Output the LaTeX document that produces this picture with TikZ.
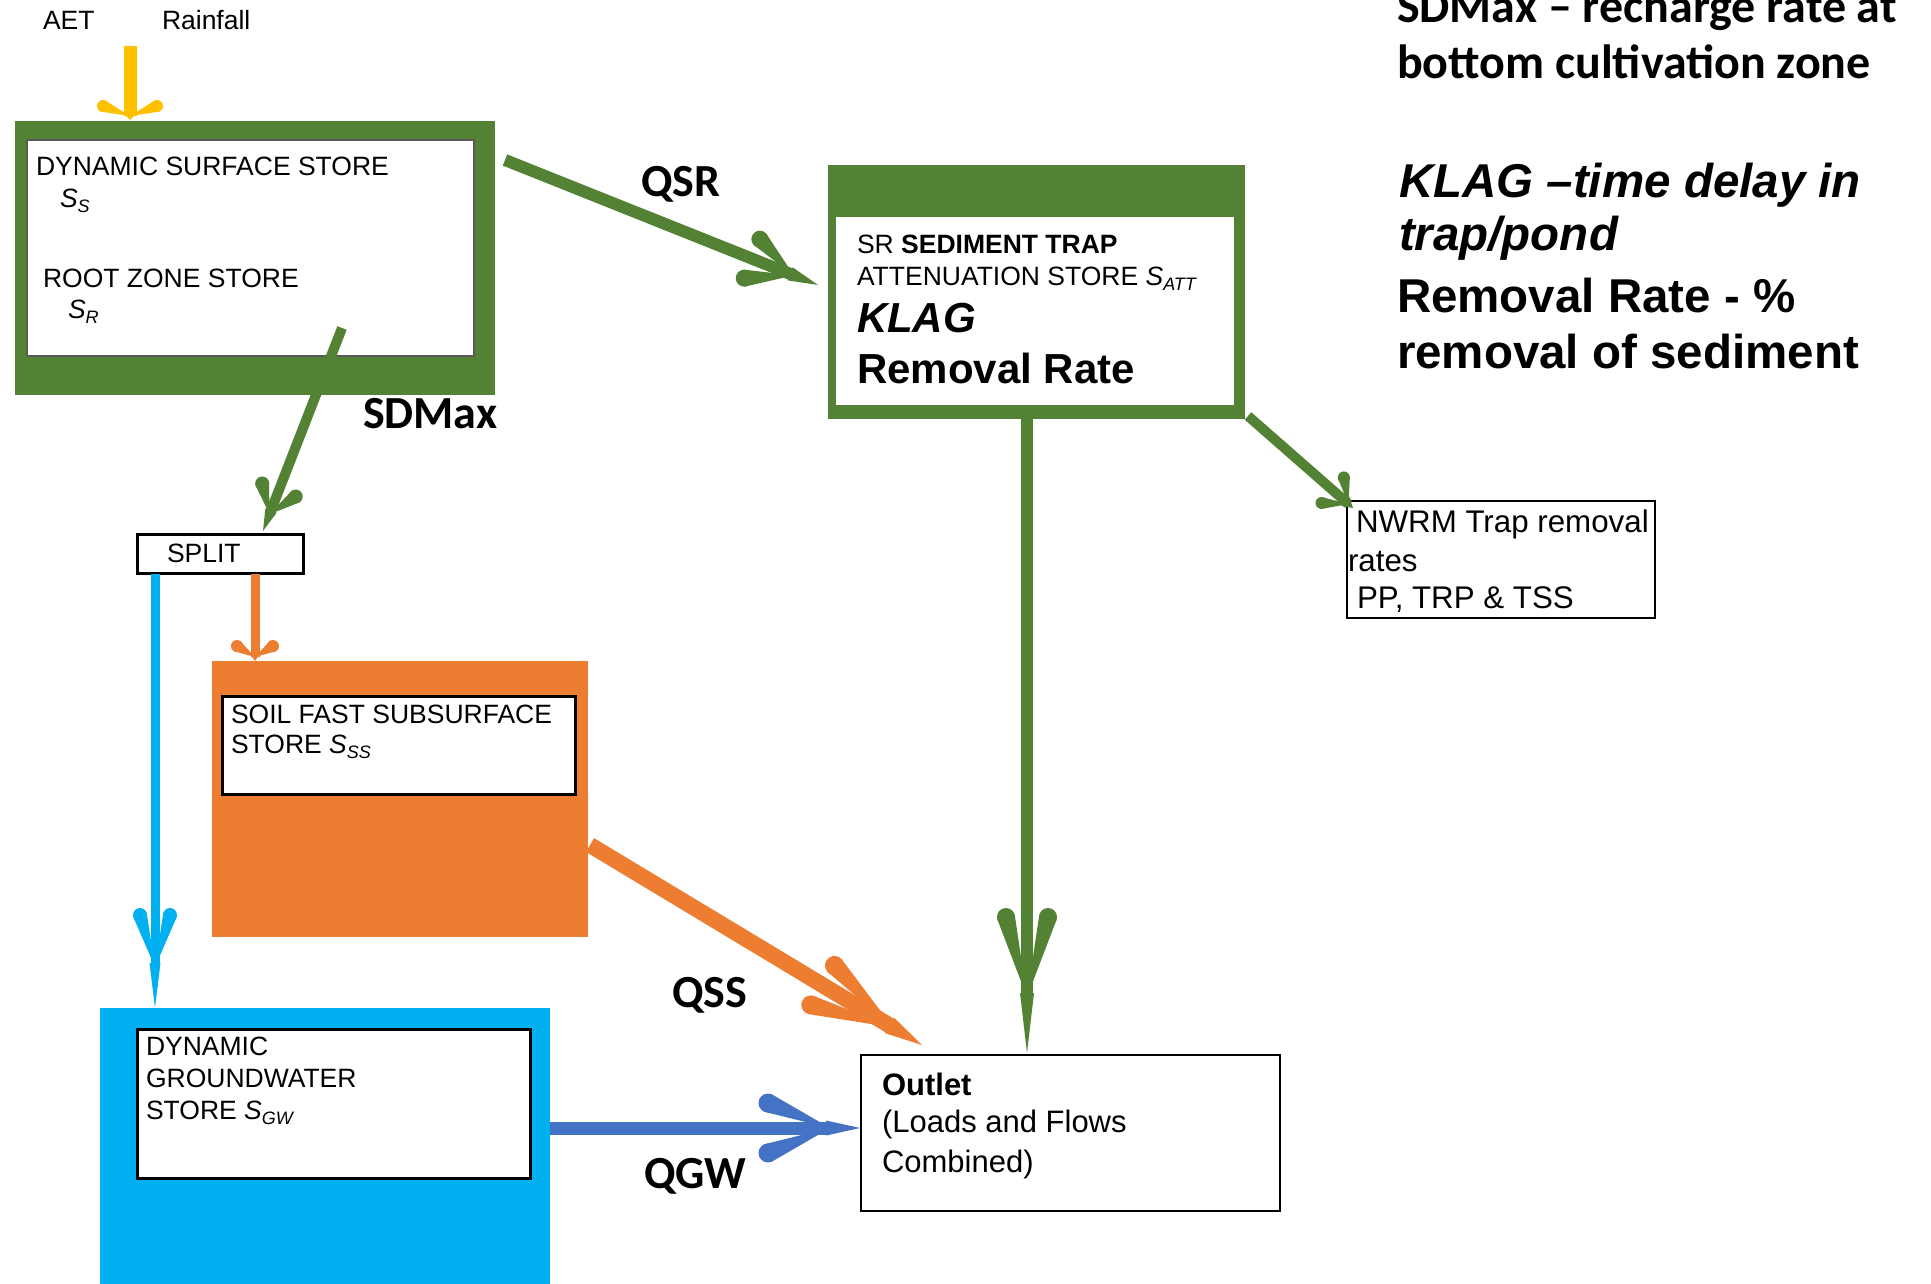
\documentclass[tikz,border=0pt]{standalone}
\usepackage{fontspec}
\setmainfont{Liberation Sans}
\newfontfamily\calib{Carlito}
\usetikzlibrary{calc,decorations.markings}
\definecolor{pgreen}{HTML}{548235}
\definecolor{porange}{HTML}{ED7D31}
\definecolor{pcyan}{HTML}{00B0F0}
\definecolor{pblue}{HTML}{4472C4}
\definecolor{pyellow}{HTML}{FFC000}
% #1 colour, #2 back, #3 lateral, #4 end radius, #5 crossing distance, #6 shaft width
\newcommand\petalhead[6]{%
  \pgfmathsetmacro\phd{sqrt((#2-#5)*(#2-#5)+#3*#3)}%
  \pgfmathsetmacro\phx{#4*#3/\phd}%
  \pgfmathsetmacro\phy{#4*(#2-#5)/\phd}%
  \pgfmathsetmacro\pht{#5+4}%
  \pgfmathsetmacro\phw{#6/2+1}%
  \fill[#1] (-#5,0) -- ({-#2+\phx},{#3+\phy}) -- ({-#2-\phx},{#3-\phy}) -- cycle;
  \fill[#1] (-#2,#3) circle[radius=#4];
  \fill[#1] (-#5,0) -- ({-#2+\phx},{-#3-\phy}) -- ({-#2-\phx},{-#3+\phy}) -- cycle;
  \fill[#1] (-#2,-#3) circle[radius=#4];
  \fill[#1] (0,0) -- (-\pht,\phw) -- (-\pht,-\phw) -- cycle;
}
\newcommand\lowsub[1]{\raisebox{-5pt}{\fontsize{18}{18}\selectfont\itshape #1}}
\begin{document}
\begin{tikzpicture}[x=1pt,y=-1pt,
  fillbox/.style={inner sep=0pt, outer sep=0pt, anchor=north west, draw=none},
  wbox/.style={fill=white, draw=black, line width=2.5pt, inner sep=0pt, outer sep=0pt, anchor=north west},
  txt/.style={inner sep=0pt, outer sep=0pt, anchor=base west, font=\fontsize{26.5}{32}\selectfont},
  lab/.style={inner sep=0pt, outer sep=0pt, anchor=base west, font=\calib\bfseries\fontsize{46}{54}\selectfont},
  rtxt/.style={inner sep=0pt, outer sep=0pt, anchor=base west, font=\fontsize{47.5}{56}\selectfont\bfseries},
  flow/.style n args={6}{
    postaction={draw=#1, line width=#2pt, shorten >=#6pt},
    postaction={decorate, decoration={markings, mark=at position 1 with {\petalhead{#1}{#3}{#4}{#5}{#6}{#2}}}}}
]
\clip (0,0) rectangle (1931,1283);
\fill[white] (0,0) rectangle (1931,1283);

% ---------- boxes ----------
\node[fillbox, fill=pgreen, minimum width=480pt, minimum height=274pt] (surf) at (15,121) {};
\node[wbox, draw=black!65, line width=1.5pt, minimum width=447pt, minimum height=216pt] (surfin) at (27,140) {};

\node[fillbox, fill=pgreen, minimum width=417pt, minimum height=254pt] (trap) at (828,165) {};
\node[fillbox, fill=white, minimum width=398pt, minimum height=188pt] (trapin) at (836,217) {};

\node[wbox, line width=3pt, minimum width=166pt, minimum height=39pt] (split) at (137,534) {};

\node[fillbox, fill=porange, minimum width=376pt, minimum height=276pt] (soil) at (212,661) {};
\node[wbox, line width=3pt, minimum width=353pt, minimum height=98pt] (soilin) at (222,696) {};

\node[fillbox, fill=pcyan, minimum width=450pt, minimum height=290pt] (gw) at (100,1008) {};
\node[wbox, line width=3pt, minimum width=393pt, minimum height=149pt] (gwin) at (137,1029) {};

\node[wbox, minimum width=419pt, minimum height=156pt] (outlet) at (861,1055) {};
\node[wbox, minimum width=308pt, minimum height=117pt] (nwrm) at (1347,501) {};

% ---------- texts ----------
\node[txt] (aet) at (43,29) {AET};
\node[txt] (rain) at (162,29) {Rainfall};

\node[txt] (s1a) at (36,175) {DYNAMIC SURFACE STORE};
\node[txt] (s1b) at (60,207) {\textit{S}\lowsub{S}};
\node[txt] (s1c) at (43,287) {ROOT ZONE STORE};
\node[txt] (s1d) at (68,318) {\textit{S}\lowsub{R}};

\node[txt] (tr1) at (857,253) {SR \textbf{SEDIMENT TRAP}};
\node[txt] (tr2) at (857,285) {ATTENUATION STORE \textit{S}\lowsub{ATT}};
\node[txt, font=\fontsize{42}{48}\selectfont\bfseries\itshape] (tr3) at (857,332) {KLAG};
\node[txt, font=\fontsize{42}{48}\selectfont\bfseries] (tr4) at (857,383) {Removal Rate};

\node[txt] (sp) at (167,562) {SPLIT};

\node[txt] (so1) at (231,723) {SOIL FAST SUBSURFACE};
\node[txt] (so2) at (231,753) {STORE \textit{S}\lowsub{SS}};

\node[txt] (g1) at (146,1055) {DYNAMIC};
\node[txt] (g2) at (146,1087) {GROUNDWATER};
\node[txt] (g3) at (146,1119) {STORE \textit{S}\lowsub{GW}};

\node[txt, font=\fontsize{31}{38}\selectfont\bfseries] (o1) at (882,1095) {Outlet};
\node[txt, font=\fontsize{31}{38}\selectfont] (o2) at (882,1132) {(Loads and Flows};
\node[txt, font=\fontsize{31}{38}\selectfont] (o3) at (882,1172) {Combined)};

\node[txt, font=\fontsize{31.3}{38}\selectfont] (n1) at (1356,532) {NWRM Trap removal};
\node[txt, font=\fontsize{31.3}{38}\selectfont] (n2) at (1348,571) {rates};
\node[txt, font=\fontsize{31.3}{38}\selectfont] (n3) at (1357,608) {PP, TRP \& TSS};

\node[lab] (lqsr) at (641,196) {QSR};
\node[lab] (lsdm) at (363,428) {SDMax};
\node[lab] (lqss) at (672,1007) {QSS};
\node[lab] (lqgw) at (644,1188) {QGW};

\node[rtxt, font=\calib\bfseries\fontsize{48}{56}\selectfont] (r1) at (1397,22) {SDMax – recharge rate at};
\node[rtxt, font=\calib\bfseries\fontsize{48}{56}\selectfont] (r2) at (1397,78) {bottom cultivation zone};
\node[rtxt, font=\fontsize{47.5}{56}\selectfont\bfseries\itshape] (r3) at (1399,197) {KLAG –time delay in};
\node[rtxt, font=\fontsize{47.5}{56}\selectfont\bfseries\itshape] (r4) at (1399,250) {trap/pond};
\node[rtxt] (r5) at (1397,312) {Removal Rate - \%};
\node[rtxt] (r6) at (1397,368) {removal of sediment};

% ---------- connectors ----------
\coordinate (rainsrc) at (130,46);
\path[flow={pyellow}{13}{14}{27}{6}{4}] (rainsrc) -- ($(surf.north west)+(115,-1)$);
\path[flow={pgreen}{12}{71}{21}{8.5}{26}] ($(surf.north east)+(10,39)$) -- ($(trap.north west)+(-10,120)$);
\path[flow={pgreen}{10}{44}{18}{7}{18}] ($(surfin.south west)+(315,-28)$) -- ($(split.north west)+(126,-3)$);
\path[flow={pcyan}{9}{93}{15}{7}{41}] ($(split.south west)+(18,1)$) -- ($(gw.north west)+(55,0)$);
\path[flow={porange}{9}{15}{18}{6}{4}] ($(split.south west)+(118,1)$) -- ($(soil.north west)+(43,0)$);
\path[flow={porange}{16}{116}{23}{9.5}{34}] ($(soil.north east)+(2,184)$) -- ($(outlet.north west)+(61,-10)$);
\path[flow={pblue}{13}{92}{25}{9.5}{30}] ($(gw.north east)+(0,120)$) -- ($(outlet.north west)+(-1,73)$);
\path[flow={pgreen}{12}{136}{21}{9}{56}] ($(trap.south west)+(199,0)$) -- ($(outlet.north west)+(166,-2)$);
\path[flow={pgreen}{10}{27}{17}{6}{6}] ($(trap.south east)+(3,-3)$) -- ($(nwrm.north west)+(6,7)$);
\end{tikzpicture}
\end{document}
